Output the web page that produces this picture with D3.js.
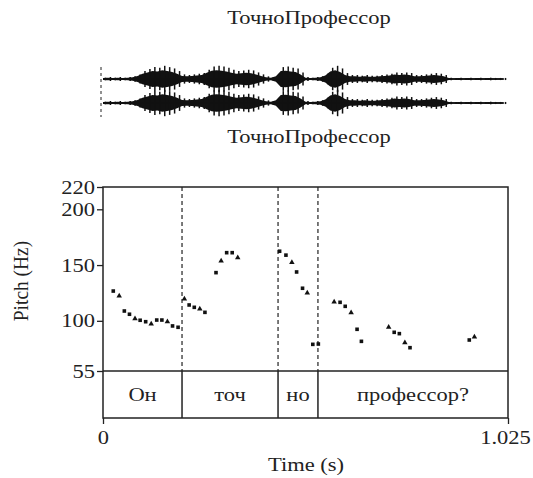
<!DOCTYPE html>
<html>
<head>
<meta charset="utf-8">
<script src="https://cdn.jsdelivr.net/npm/d3@7"></script>
<style>
  body { margin: 0; background: #fff; }
  svg, svg text { font-family: "Liberation Serif", "Times New Roman", Times, "DejaVu Serif", "Noto Serif", serif; }
</style>
</head>
<body>
<div id="chart"></div>
<script>
// Chart data
const titleText = "ТочноПрофессор";
const pitchTicks = [55, 100, 150, 200, 220];
const timeTicks = [0, 1.025];
const boundaries = [0.200, 0.443, 0.544];
const words = ["Он", "точ", "но", "профессор?"];

// pitch track: time (s) and F0 (Hz)
const pitchTime = [0.026, 0.041, 0.054, 0.067, 0.081, 0.094, 0.108, 0.122, 0.136, 0.149, 0.163, 0.176, 0.190,
    0.206, 0.218, 0.231, 0.245, 0.258,
    0.286, 0.299, 0.313, 0.327, 0.341,
    0.447, 0.463, 0.478, 0.490, 0.505, 0.517, 0.531, 0.545,
    0.585, 0.600, 0.613, 0.628, 0.643, 0.654,
    0.723, 0.737, 0.750, 0.764, 0.777,
    0.927, 0.940];
const pitchHz = [126.7, 122.3, 108.8, 105.9, 101.9, 100.5, 99.2, 97.2, 100.7, 100.7, 99.2, 95.4, 94.2,
    119.6, 114.2, 112.1, 110.6, 107.6,
    143.2, 153.7, 161.1, 161.1, 156.6,
    162.4, 158.9, 152.3, 143.8, 129.2, 125.0, 78.9, 79.2,
    116.9, 116.6, 113.0, 107.3, 92.4, 81.6,
    94.2, 89.7, 88.5, 80.4, 75.9,
    82.8, 85.5];

// waveform envelope, one value every 12.5 ms (relative amplitude)
const waveStep = 0.0125;
const waveEnv = [0.1, 0.15, 0.1, 0.15, 0.1, 0.15, 0.2, 0.35, 0.6, 0.75, 0.9, 0.85, 1.0, 0.9, 0.8, 0.6,
    0.35, 0.3, 0.35, 0.4, 0.45, 0.7, 0.95, 1.0, 0.95, 0.85, 0.7, 0.6, 0.65, 0.7, 0.65, 0.5,
    0.35, 0.2, 0.15, 0.3, 0.9, 0.95, 0.85, 0.8, 0.5, 0.15, 0.1, 0.15, 0.2, 0.4, 0.85, 1.0,
    0.8, 0.45, 0.3, 0.3, 0.25, 0.3, 0.25, 0.25, 0.3, 0.35, 0.4, 0.5, 0.45, 0.5, 0.45, 0.3,
    0.3, 0.35, 0.4, 0.45, 0.4, 0.3, 0.1, 0.08, 0.1, 0.08, 0.1, 0.08, 0.1, 0.08, 0.1, 0.08, 0.08, 0.08];
const waveChannels = [79, 103];

const W = 533, H = 478;
const svg = d3.select("#chart").append("svg")
    .attr("width", W)
    .attr("height", H);

const plotLeft = 103, plotRight = 508, plotTop = 187, pitchBottom = 371, tierBottom = 418;
const ink = "#222";
const fontSize = 18, stretch = 1.25;

var x = d3.scaleLinear().domain([0, 1.025]).range([plotLeft, plotRight]);
var y = d3.scaleLinear().domain([55, 220]).range([pitchBottom, plotTop]);
var amp = d3.scaleLinear().domain([0, 1]).range([0, 11]);

// horizontal text, widened like the reference
function label(parent, px, py, str, anchor) {
    return parent.append("text")
        .attr("transform", "translate(" + px + "," + py + ") scale(" + stretch + ",1)")
        .attr("text-anchor", anchor || "middle")
        .style("font-size", fontSize + "px")
        .attr("fill", ink)
        .text(str);
}

// Titles above and below the waveform
label(svg, 309, 24, titleText);
label(svg, 309, 143, titleText);

// Waveform (two channels)
const waveData = waveEnv.map((a, i) => ({ t: i * waveStep, a: a }));
waveChannels.forEach(cy => {
    const g = svg.append("g");
    g.append("path")
        .datum(waveData)
        .attr("fill", "#111")
        .attr("d", d3.area()
            .x(d => x(d.t))
            .y0(d => cy + amp(d.a) * 0.8)
            .y1(d => cy - amp(d.a) * 0.8)
            .curve(d3.curveLinear));
    g.selectAll("line")
        .data(waveData)
        .enter()
        .append("line")
        .attr("x1", d => x(d.t + waveStep / 2))
        .attr("x2", d => x(d.t + waveStep / 2))
        .attr("y1", d => cy - amp(d.a) * 1.2)
        .attr("y2", d => cy + amp(d.a) * 1.2)
        .attr("stroke", "#111")
        .attr("stroke-width", 1.5);
    g.append("line")
        .attr("x1", x(0)).attr("x2", x(1.015))
        .attr("y1", cy).attr("y2", cy)
        .attr("stroke", "#111")
        .attr("stroke-width", 1.3);
});
svg.append("line")
    .attr("x1", x(0) - 2).attr("x2", x(0) - 2)
    .attr("y1", 67).attr("y2", 117)
    .attr("stroke", ink)
    .attr("stroke-dasharray", "3,3");

// Frame
svg.append("rect")
    .attr("x", plotLeft).attr("y", plotTop)
    .attr("width", plotRight - plotLeft)
    .attr("height", tierBottom - plotTop)
    .attr("fill", "none")
    .attr("stroke", ink)
    .attr("stroke-width", 1.5);
svg.append("line")
    .attr("x1", plotLeft).attr("x2", plotRight)
    .attr("y1", pitchBottom).attr("y2", pitchBottom)
    .attr("stroke", ink)
    .attr("stroke-width", 1.5);

// Y axis
const yAxis = svg.append("g")
    .attr("transform", "translate(" + plotLeft + ",0)")
    .call(d3.axisLeft(y).tickValues(pitchTicks).tickSize(6).tickFormat(d3.format("d")));
yAxis.select(".domain").remove();
yAxis.selectAll(".tick line").attr("stroke", ink).attr("stroke-width", 1.3);
yAxis.selectAll(".tick text").remove();
yAxis.selectAll(".tick").each(function(d) {
    label(d3.select(this), -8, 6, d, "end");
});

// X axis
const xAxis = svg.append("g")
    .attr("transform", "translate(0," + tierBottom + ")")
    .call(d3.axisBottom(x).tickValues(timeTicks).tickSize(6));
xAxis.select(".domain").remove();
xAxis.selectAll(".tick line").attr("stroke", ink).attr("stroke-width", 1.3);
xAxis.selectAll(".tick text").remove();
xAxis.selectAll(".tick").each(function(d) {
    label(d3.select(this), d === 0 ? 0 : -3, 26, d === 0 ? "0" : "1.025");
});

// Axis labels
svg.append("text")
    .attr("transform", "translate(28," + ((plotTop + pitchBottom) / 2 + 2) + ") rotate(-90) scale(1.08,1.2)")
    .attr("text-anchor", "middle")
    .style("font-size", fontSize + "px")
    .attr("fill", ink)
    .text("Pitch (Hz)");
label(svg, 306, 471, "Time (s)");

// Word boundaries: dashed in pitch area, solid in tier
svg.append("g")
    .selectAll("line")
    .data(boundaries)
    .enter()
    .append("line")
    .attr("x1", d => x(d)).attr("x2", d => x(d))
    .attr("y1", plotTop).attr("y2", pitchBottom)
    .attr("stroke", ink)
    .attr("stroke-width", 1.2)
    .attr("stroke-dasharray", "4,3");
svg.append("g")
    .selectAll("line")
    .data(boundaries)
    .enter()
    .append("line")
    .attr("x1", d => x(d)).attr("x2", d => x(d))
    .attr("y1", pitchBottom).attr("y2", tierBottom)
    .attr("stroke", ink)
    .attr("stroke-width", 1.5);

// Tier labels
const edges = [0].concat(boundaries).concat([1.025]);
const tierG = svg.append("g");
words.forEach((w, i) => {
    label(tierG, (x(edges[i]) + x(edges[i + 1])) / 2, 401, w);
});

// Pitch points
const pitchData = pitchTime.map((t, i) => ({ t: t, f: pitchHz[i] }));
svg.append("g")
    .selectAll("path")
    .data(pitchData)
    .enter()
    .append("path")
    .attr("transform", d => "translate(" + x(d.t) + "," + y(d.f) + ")")
    .attr("d", (d, i) => d3.symbol().type(i % 3 === 1 ? d3.symbolTriangle : d3.symbolSquare).size(13)())
    .attr("fill", "#111");
</script>
</body>
</html>
